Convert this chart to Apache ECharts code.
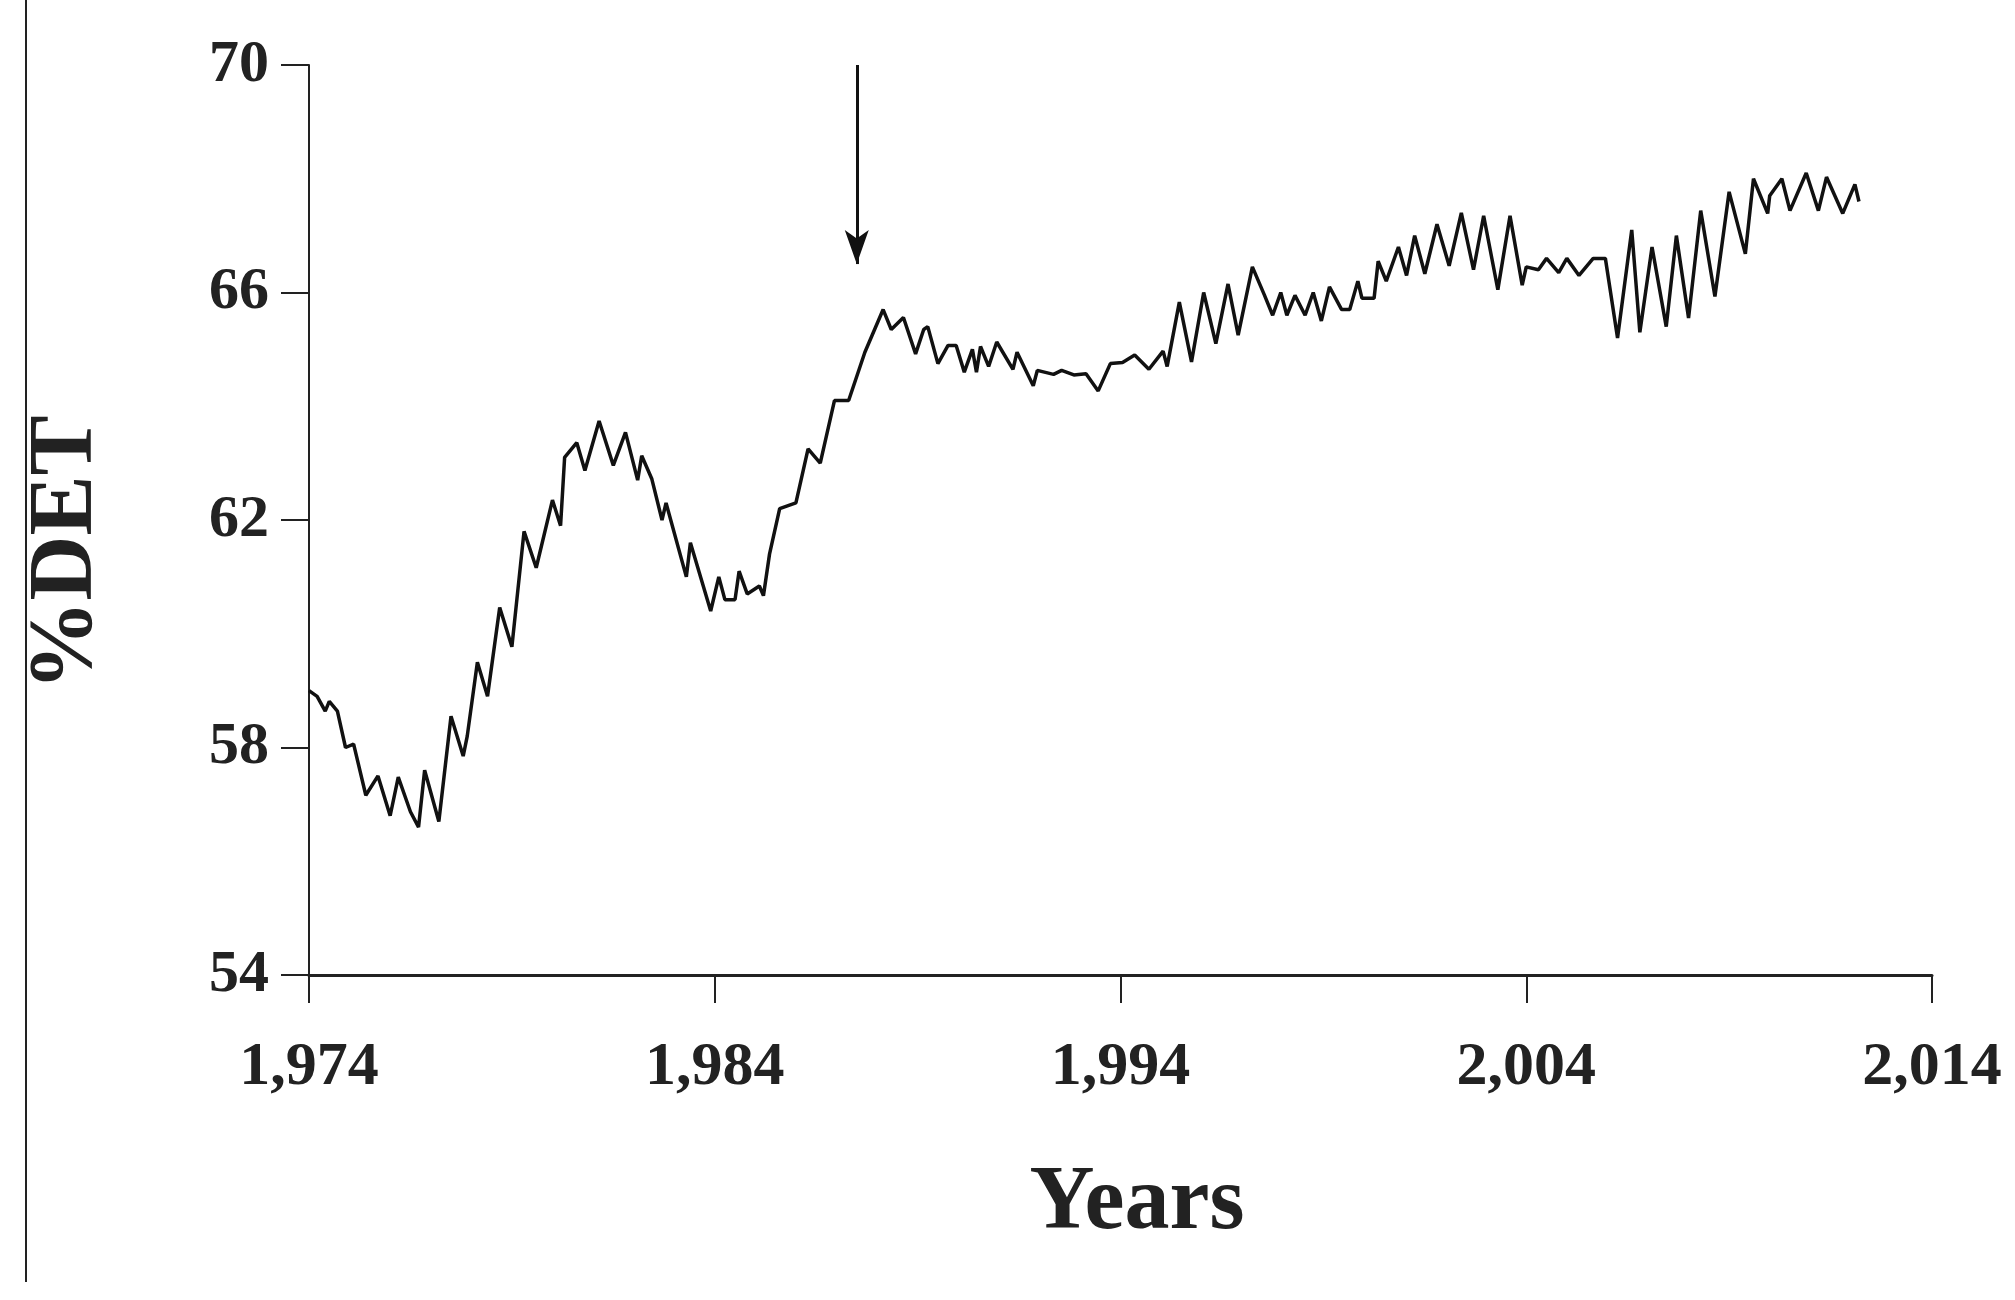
<!DOCTYPE html>
<html><head><meta charset="utf-8">
<script src="https://cdn.jsdelivr.net/npm/echarts@6/dist/echarts.min.js"></script>
<style>html,body{margin:0;padding:0;background:#fff}#c{width:2015px;height:1300px}</style>
</head><body><div id="c"></div>
<script>
const years = [1974.0,1974.2,1974.4,1974.5,1974.7,1974.9,1975.1,1975.4,1975.7,1976.0,1976.2,1976.5,1976.7,1976.85,1977.2,1977.5,1977.8,1977.9,1978.15,1978.4,1978.7,1979.0,1979.3,1979.6,1980.0,1980.2,1980.3,1980.6,1980.8,1981.15,1981.5,1981.8,1982.1,1982.2,1982.45,1982.7,1982.8,1983.3,1983.4,1983.9,1984.1,1984.25,1984.5,1984.6,1984.8,1985.1,1985.2,1985.35,1985.6,1986.0,1986.3,1986.6,1986.95,1987.3,1987.7,
1988.15,1988.35,1988.65,1988.95,1989.15,1989.25,1989.5,1989.75,1989.95,1990.15,1990.35,1990.45,1990.55,1990.75,1990.95,1991.35,1991.45,1991.85,1991.95,1992.35,1992.55,1992.85,1993.15,1993.45,1993.75,1994.05,1994.35,1994.7,1995.05,1995.15,1995.45,1995.75,1996.05,1996.35,1996.65,1996.9,1997.25,1997.55,1997.75,1997.95,1998.1,1998.3,1998.55,1998.75,1998.95,1999.15,1999.45,1999.65,1999.85,1999.95,2000.25,2000.35,2000.55,2000.85,2001.05,2001.25,
2001.5,2001.8,2002.1,2002.4,2002.7,2002.95,2003.3,2003.6,2003.9,2004.0,2004.3,2004.5,2004.8,2005.0,2005.3,2005.65,2005.95,2006.25,2006.6,2006.8,2007.1,2007.45,2007.7,2008.0,2008.3,2008.65,2009.0,2009.4,2009.6,2009.95,2010.0,2010.3,2010.5,2010.9,2011.2,2011.4,2011.8,2012.1,2012.2];
const det = [59.0,58.9,58.64,58.81,58.64,58.0,58.06,57.16,57.5,56.8,57.48,56.87,56.6,57.6,56.7,58.55,57.85,58.2,59.5,58.9,60.46,59.77,61.8,61.16,62.35,61.9,63.1,63.36,62.87,63.74,62.96,63.54,62.7,63.13,62.72,62.0,62.3,61.0,61.6,60.4,61.0,60.6,60.6,61.1,60.7,60.84,60.67,61.4,62.2,62.3,63.25,63.0,64.1,64.1,64.95,
65.7,65.35,65.56,64.92,65.35,65.4,64.75,65.07,65.07,64.6,65.0,64.6,65.05,64.7,65.13,64.65,64.95,64.36,64.63,64.56,64.63,64.55,64.57,64.27,64.75,64.77,64.9,64.65,64.97,64.7,65.83,64.78,66.0,65.1,66.15,65.25,66.45,65.95,65.6,66.0,65.6,65.95,65.6,66.0,65.5,66.1,65.7,65.7,66.2,65.9,65.9,66.55,66.2,66.8,66.3,67.0,
66.33,67.2,66.47,67.4,66.4,67.35,66.05,67.35,66.13,66.45,66.4,66.6,66.35,66.6,66.3,66.6,66.6,65.2,67.1,65.3,66.8,65.4,67.0,65.55,67.44,65.93,67.77,66.68,68.0,67.39,67.7,68.0,67.44,68.1,67.44,68.03,67.39,67.9,67.6];
const arrowYear = 1987.5, arrowTop = 70, arrowTip = 66.5;
const yTicks = [54,58,62,66,70];
const xTicks = [1974,1984,1994,2004,2014];

const font = '"Liberation Serif","Times New Roman",serif';
const chart = echarts.init(document.getElementById('c'));
chart.setOption({
  backgroundColor:'#fff',
  animation:false,
  grid:{left:309,right:83,top:65,bottom:325},
  xAxis:{type:'value',min:1974,max:2014,interval:10,
    axisLine:{lineStyle:{color:'#222',width:3}},
    axisTick:{show:true,length:28,lineStyle:{color:'#222',width:2}},
    axisLabel:{margin:62,fontFamily:font,fontWeight:'bold',fontSize:62,color:'#222'},
    splitLine:{show:false}},
  yAxis:{type:'value',min:54,max:70,interval:4,
    axisLine:{show:true,lineStyle:{color:'#222',width:2}},
    axisTick:{show:true,length:28,lineStyle:{color:'#222',width:2}},
    axisLabel:{margin:40,fontFamily:font,fontWeight:'bold',fontSize:60,color:'#222'},
    splitLine:{show:false}},
  series:[{type:'line',data:years.map((y,i)=>[y,det[i]]),showSymbol:false,
    lineStyle:{color:'#111',width:3.5},
    markLine:{silent:true,symbol:['none','arrow'],symbolSize:[18,34],label:{show:false},
      lineStyle:{color:'#111',width:3,type:'solid'},
      data:[[{coord:[arrowYear,arrowTop]},{coord:[arrowYear,arrowTip]}]]}}],
  graphic:[
    {type:'line',shape:{x1:26,y1:0,x2:26,y2:1282},style:{stroke:'#222',lineWidth:2}},
    {type:'text',x:1137,y:1205,style:{text:'Years',font:'bold 90px '+font,fill:'#222',textAlign:'center',textVerticalAlign:'middle'}},
    {type:'text',x:68,y:553,rotation:Math.PI/2,style:{text:'%DET',font:'bold 90px '+font,fill:'#222',textAlign:'center',textVerticalAlign:'middle'}}
  ]
});
</script></body></html>
